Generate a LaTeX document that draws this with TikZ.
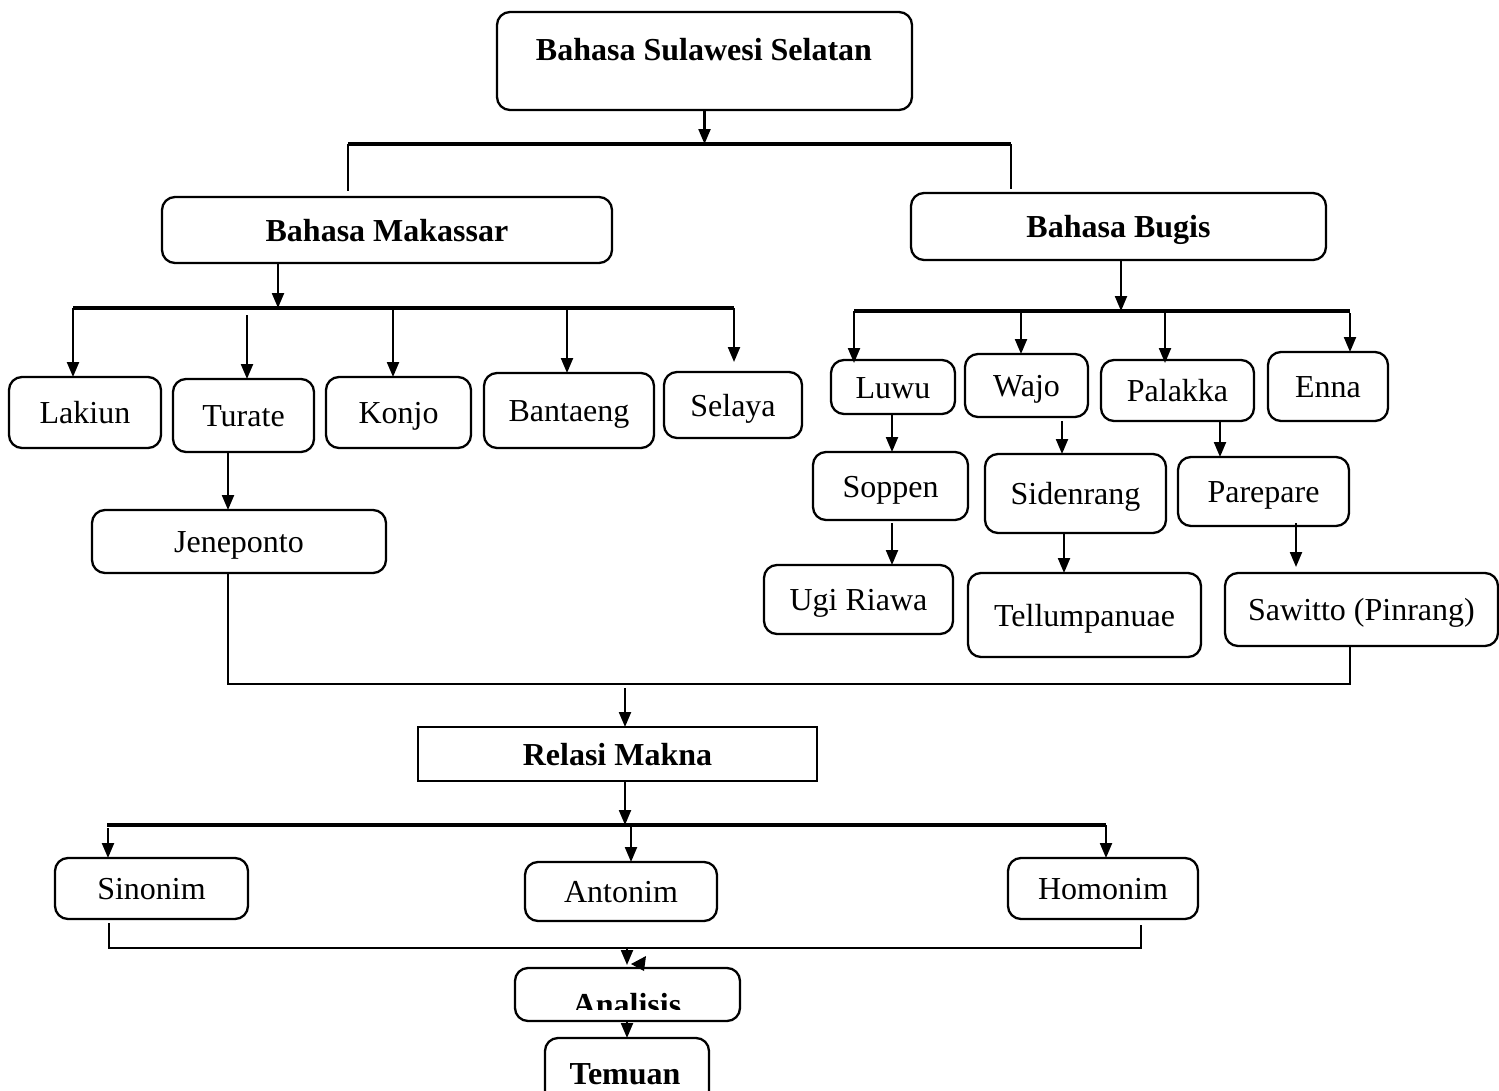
\documentclass[tikz,border=0pt]{standalone}
\usepackage{fontspec}
\setmainfont{Liberation Serif}
\usetikzlibrary{arrows.meta,calc}
\newcommand{\RB}[6]{\node[rbox, minimum width={#4-#2}, minimum height={#5-#3}] (#1) at ({(#2+#4)/2},{(#3+#5)/2}) {#6};}
\begin{document}
\begin{tikzpicture}[x=1pt,y=-1pt,
  rbox/.style={draw, line width=2.3pt, rounded corners=13pt, inner sep=0pt, outer sep=0pt,
    text height=22pt, text depth=0pt, font=\fontsize{32}{38}\selectfont},
  sbox/.style={rbox, rounded corners=0pt},
  lbl/.style={inner sep=0pt, font=\fontsize{32}{38}\selectfont\bfseries},
  arr/.style={line width=2.2pt, -{Triangle[length=15pt,width=12pt]}},
  ln/.style={line width=2.2pt},
  bar/.style={line width=3.2pt},
  topbar/.style={line width=4.5pt}]
\useasboundingbox (0,0) rectangle (1499,1090);

% top
\RB{top}{497}{12}{912}{110}{}
\node[lbl, anchor=base] (toptext) at (704,60) {Bahasa Sulawesi Selatan};
\coordinate (b1l) at (348,144);
\coordinate (b1r) at (1011,144);
\draw[arr] (top.south) -- (top.south |- b1l);
\draw[topbar] (b1l) -- (b1r);

% level 2
\RB{mak}{162}{197}{612}{263}{\bfseries Bahasa Makassar}
\RB{bug}{911}{193}{1326}{260}{\bfseries Bahasa Bugis}
\draw[ln] (b1l) -- ($(b1l |- mak.north)+(0,-6)$);
\draw[ln] (b1r) -- ($(b1r |- bug.north)+(0,-4)$);

% Makassar branch
\RB{lak}{9}{377}{161}{448}{Lakiun}
\RB{tur}{173}{379}{314}{452}{Turate}
\RB{kon}{326}{377}{471}{448}{Konjo}
\RB{ban}{484}{373}{654}{448}{Bantaeng}
\RB{sel}{664}{372}{802}{438}{Selaya}
\RB{jen}{92}{510}{386}{573}{Jeneponto}
\coordinate (b2m) at (278,308);
\coordinate (b2l) at (73,308);
\coordinate (b2r) at (734,308);
\draw[arr] (mak.south -| b2m) -- (b2m);
\draw[bar] (b2l) -- (b2r);
\draw[arr] (b2l) -- (b2l |- lak.north);
\coordinate (a2) at (247,315);
\draw[arr] (a2) -- (a2 |- tur.north);
\coordinate (a3) at (393,310);
\draw[arr] (a3) -- (a3 |- kon.north);
\coordinate (a4) at (567,310);
\draw[arr] (a4) -- (a4 |- ban.north);
\draw[arr] (b2r) -- ($(b2r |- sel.north)+(0,-10)$);
\coordinate (tj) at (228,452);
\draw[arr] (tj) -- (tj |- jen.north);

% Bugis branch
\RB{luw}{831}{360}{955}{414}{Luwu}
\RB{waj}{965}{354}{1088}{417}{Wajo}
\RB{pal}{1101}{360}{1254}{421}{Palakka}
\RB{enn}{1268}{352}{1388}{421}{Enna}
\RB{sop}{813}{452}{968}{520}{Soppen}
\RB{sid}{985}{454}{1166}{533}{Sidenrang}
\RB{par}{1178}{457}{1349}{526}{Parepare}
\RB{ugi}{764}{565}{953}{634}{Ugi Riawa}
\RB{tel}{968}{573}{1201}{657}{Tellumpanuae}
\RB{saw}{1225}{573}{1498}{646}{Sawitto (Pinrang)}
\coordinate (b3m) at (1121,311);
\coordinate (b3l) at (854,311);
\coordinate (b3r) at (1350,311);
\draw[arr] (bug.south -| b3m) -- (b3m);
\draw[bar] (b3l) -- (b3r);
\draw[arr] (b3l) -- ($(b3l |- luw.north)+(0,3)$);
\coordinate (c2) at (1021,313);
\draw[arr] (c2) -- (c2 |- waj.north);
\coordinate (c3) at (1165,311);
\draw[arr] (c3) -- ($(c3 |- pal.north)+(0,3)$);
\coordinate (c4) at (1350,313);
\draw[arr] (c4) -- (c4 |- enn.north);
\coordinate (d1) at (892,414);
\draw[arr] (d1) -- (d1 |- sop.north);
\coordinate (d2) at (1062,421);
\draw[arr] (d2) -- (d2 |- sid.north);
\coordinate (d3) at (1220,422);
\draw[arr] (d3) -- (d3 |- par.north);
\coordinate (e1) at (892,523);
\draw[arr] (e1) -- (e1 |- ugi.north);
\coordinate (e2) at (1064,533);
\draw[arr] (e2) -- (e2 |- tel.north);
\coordinate (e3) at (1296,523);
\draw[arr] (e3) -- ($(e3 |- saw.north)+(0,-6)$);

% merge
\coordinate (m1) at (228,684);
\coordinate (m2) at (1350,684);
\draw[ln] (jen.south -| m1) -- (m1) -- (m2) -- (m2 |- saw.south);

% Relasi Makna
\node[sbox, minimum width=399, minimum height=54] (rel) at (617.5,754) {\bfseries Relasi Makna};
\coordinate (r0) at (625,688);
\draw[arr] (r0) -- (r0 |- rel.north);
\coordinate (b4m) at (625,825);
\coordinate (b4l) at (107,825);
\coordinate (b4r) at (1106,825);
\draw[arr] (rel.south -| b4m) -- (b4m);
\draw[bar] (b4l) -- (b4r);
\RB{sin}{55}{858}{248}{919}{Sinonim}
\RB{ant}{525}{862}{717}{921}{Antonim}
\RB{hom}{1008}{858}{1198}{919}{Homonim}
\coordinate (f1) at (108,828);
\draw[arr] (f1) -- (f1 |- sin.north);
\coordinate (f2) at (631,825);
\draw[arr] (f2) -- (f2 |- ant.north);
\draw[arr] (b4r) -- (b4r |- hom.north);

% bottom merge
\coordinate (g1) at (109,948);
\coordinate (g2) at (1141,948);
\draw[ln] ($(sin.south -| g1)+(0,4)$) -- (g1) -- (g2) -- ($(hom.south -| g2)+(0,6)$);

% Analisis and Temuan
\RB{ana}{515}{968}{740}{1021}{}
\begin{scope}
  \clip (515,968) rectangle (740,1009);
  \node[lbl, anchor=base] (anatext) at (627,1015) {Analisis};
\end{scope}
\coordinate (h1) at (627,948);
\draw[arr] (h1) -- ($(h1 |- ana.north)+(0,-3)$);
\fill (631,964) -- (646,956) -- (644,971) -- cycle;
\RB{tem}{545}{1038}{709}{1110}{}
\node[lbl, anchor=base] (temtext) at (625,1084) {Temuan};
\coordinate (h2) at (627,1021);
\draw[arr] (h2) -- (h2 |- tem.north);
\end{tikzpicture}
\end{document}
